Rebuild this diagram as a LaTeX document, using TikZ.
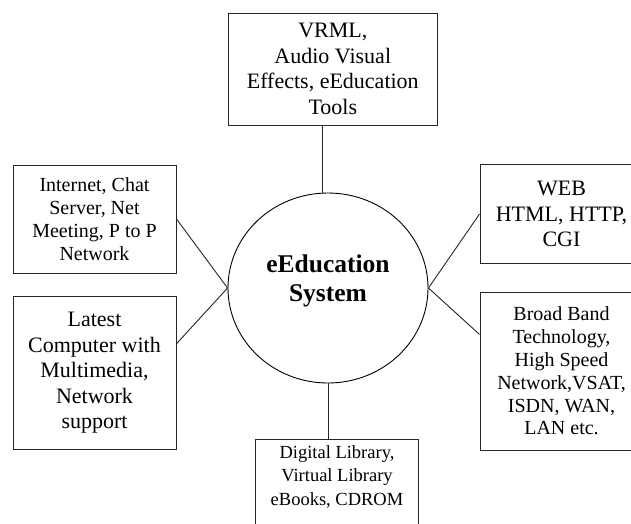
\documentclass[tikz,border=0pt]{standalone}
\usepackage{fontspec}
\setmainfont{Liberation Serif}
\usetikzlibrary{shapes.geometric,calc}

\begin{document}
\begin{tikzpicture}[x=1pt,y=-1pt,
  box/.style={draw=black!85,line width=1pt,rectangle,inner sep=0pt,align=center},
  hubshape/.style={draw=black,line width=0.9pt,ellipse,inner sep=0pt,
    minimum width=200pt,minimum height=190pt},
  link/.style={draw=black!85,line width=0.9pt},
  big/.style={font=\fontsize{22}{25.5}\selectfont},
  small/.style={font=\fontsize{20}{22.8}\selectfont},
  tiny/.style={font=\fontsize{18.5}{23.5}\selectfont}]

  % page frame
  \clip (0,0) rectangle (631,523);
  \fill[white] (0,0) rectangle (631,523);

  % central hub
  \node[hubshape] (hub) at (328,288) {};
  \node[align=center,font=\fontsize{25.5}{28.5}\selectfont\bfseries] (title) at (328,281)
    {eEducation\\System};

  % surrounding boxes
  \node[box,big,minimum width=208.4pt,minimum height=112pt] (top) at (332.8,69)
    {VRML,\\Audio Visual\\Effects, eEducation\\Tools};
  \node[box,small,minimum width=163pt,minimum height=108pt] (lt) at (94.5,219)
    {Internet, Chat\\Server, Net\\Meeting, P to P\\Network};
  \node[box,big,minimum width=163pt,minimum height=153pt] (lb) at (94.5,373)
    {Latest\\Computer with\\Multimedia,\\Network\\support};
  \node[box,big,minimum width=163pt,minimum height=98.5pt] (rt) at (561.5,214)
    {WEB\\HTML, HTTP,\\CGI};
  \node[box,small,minimum width=163pt,minimum height=158pt] (rb) at (561.5,371)
    {Broad Band\\Technology,\\High Speed\\Network,VSAT,\\ISDN, WAN,\\LAN etc.};
  \node[box,minimum width=163pt,minimum height=120pt,anchor=north] (bot) at (336.5,439) {};
  \node[align=center,tiny] (botlbl) at (337,476.5)
    {Digital Library,\\Virtual Library\\eBooks, CDROM};

  % connectors
  \coordinate (tp) at ($(top.south west)!0.45!(top.south east)$);
  \draw[link] (tp) -- (tp |- hub.north);
  \draw[link] (hub.south) -- (hub.south |- bot.north);
  \draw[link] (lt.east) -- (hub.west);
  \draw[link] ($(lb.north east)!0.31!(lb.south east)$) -- (hub.west);
  \draw[link] (rt.west) -- (hub.east);
  \draw[link] ($(rb.north west)!0.27!(rb.south west)$) -- (hub.east);
\end{tikzpicture}
\end{document}
